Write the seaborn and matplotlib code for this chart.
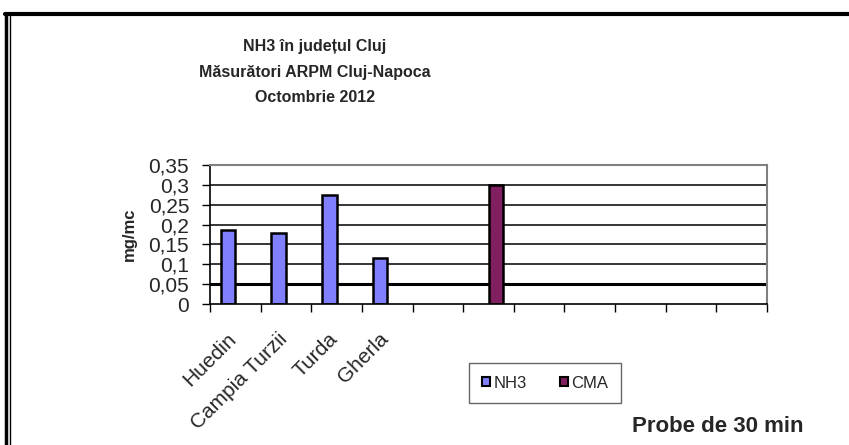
import pandas as pd
import matplotlib.pyplot as plt
import matplotlib.transforms as mtransforms
import seaborn as sns
from matplotlib.lines import Line2D
from matplotlib.patches import Patch

# data
locations = ["Huedin", "Campia Turzii", "Turda", "Gherla"]
nh3_values = [0.187, 0.18, 0.275, 0.115]
cma_value = 0.3
cma_slot = 5          # CMA bar sits in the 6th category slot
n_slots = 11
y_ticks = [0, 0.05, 0.1, 0.15, 0.2, 0.25, 0.3, 0.35]
y_labels = ["0", "0,05", "0,1", "0,15", "0,2", "0,25", "0,3", "0,35"]
series = ["NH3", "CMA"]
colors = {"NH3": "#8080ff", "CMA": "#802060"}
title_lines = ["NH3 în județul Cluj", "Măsurători ARPM Cluj-Napoca", "Octombrie 2012"]

slots = [f"s{i}" for i in range(n_slots)]
x_labels = locations + [""] * (n_slots - len(locations))

rows = [{"slot": slots[i], "serie": "NH3", "val": v} for i, v in enumerate(nh3_values)]
rows.append({"slot": slots[cma_slot], "serie": "CMA", "val": cma_value})
df = pd.DataFrame(rows)

sns.set_style("white")
plt.rcParams['font.family'] = ['Liberation Sans', 'DejaVu Sans']

fig = plt.figure(figsize=(8.49, 4.45), dpi=100)
ax = fig.add_axes([210 / 849, 1 - 304 / 445, 557 / 849, 139 / 445])

sns.barplot(data=df, x="slot", y="val", hue="serie", order=slots, hue_order=series,
            palette=colors, width=0.58, dodge=True, edgecolor="black", linewidth=1.8,
            saturation=1, legend=False, ax=ax)

ax.set_xlim(-0.5, n_slots - 0.5)
ax.set_ylim(0, 0.35)
ax.set_yticks(y_ticks)
ax.set_yticklabels(y_labels, fontsize=15)
for t in y_ticks[1:-1]:
    ax.axhline(t, color="black", lw=2.2 if t == 0.05 else 1.1, zorder=0)

ax.set_xticks(range(n_slots))
ax.set_xticklabels(x_labels, rotation=45, ha="right", va="center",
                   rotation_mode="anchor", fontsize=15)
ax.set_xticks([i - 0.5 for i in range(n_slots + 1)], minor=True)
ax.tick_params(axis="x", which="major", length=0, pad=23)
ax.tick_params(axis="x", which="minor", length=6, width=1, color="black", direction="out", bottom=True)
ax.tick_params(axis="y", length=6, width=1, color="black", direction="out", left=True, pad=9)
# nudge rotated labels a bit to the left so they end near the slot centre
shift = mtransforms.ScaledTranslation(-2 / 100, 0, fig.dpi_scale_trans)
for lab in ax.get_xticklabels():
    lab.set_transform(lab.get_transform() + shift)

ax.set_xlabel("")
ax.set_ylabel("mg/mc", fontsize=12, fontweight="bold", labelpad=8)
for s in ["left", "bottom"]:
    ax.spines[s].set_color("black")
    ax.spines[s].set_linewidth(1.2)
for s in ["top", "right"]:
    ax.spines[s].set_color("#808080")
    ax.spines[s].set_linewidth(1.5)

for i, line in enumerate(title_lines):
    fig.text(315 / 849, 1 - (47 + 25 * i) / 445, line, ha="center", va="center",
             fontsize=11.5, fontweight="bold")
fig.text(632 / 849, 1 - 427 / 445, "Probe de 30 min", ha="left", va="center",
         fontsize=16, fontweight="bold")

handles = [Patch(facecolor=colors[s], edgecolor="black", linewidth=1.5, label=s) for s in series]
leg = fig.legend(handles=handles, loc="center", bbox_to_anchor=(545 / 849, 1 - 383 / 445),
                 ncol=2, frameon=True, fontsize=12, handlelength=0.5, handleheight=0.5,
                 handletextpad=0.2, columnspacing=2.0, borderpad=0.75, fancybox=False,
                 borderaxespad=0)
leg.get_frame().set_edgecolor("#404040")
leg.get_frame().set_linewidth(1)

# outer frame of the picture
fig.add_artist(Line2D([5 / 849, 1], [1 - 14 / 445] * 2, color="black", lw=3))
fig.add_artist(Line2D([6 / 849] * 2, [0, 1 - 14 / 445], color="black", lw=2.5))
fig.add_artist(Line2D([10 / 849] * 2, [0, 1 - 16 / 445], color="black", lw=1))

fig.savefig("out.png", dpi=100)
